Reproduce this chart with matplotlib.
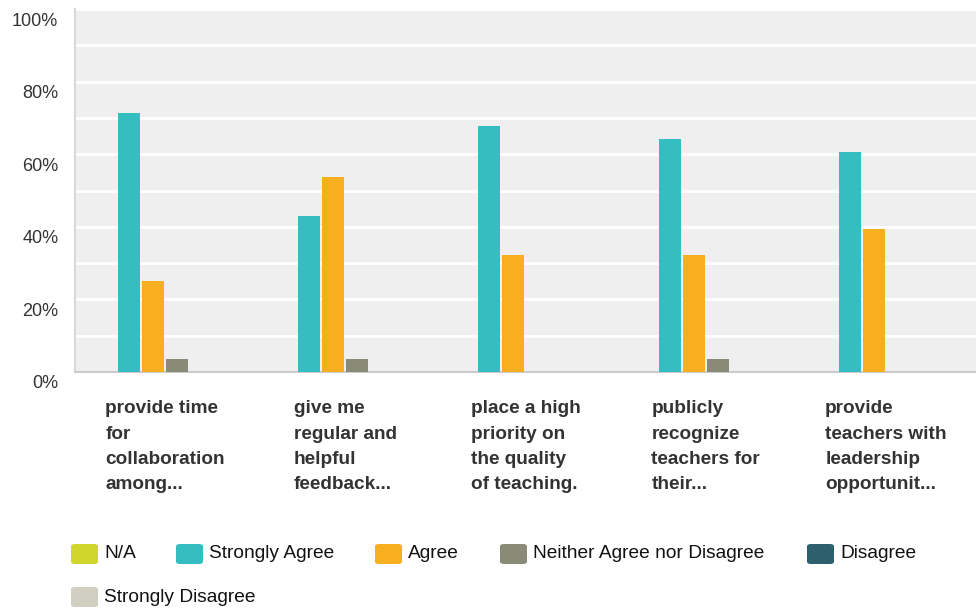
import matplotlib
matplotlib.use("Agg")
import matplotlib.pyplot as plt
import matplotlib.transforms as mtransforms
from matplotlib.patches import FancyBboxPatch
import numpy as np

plt.rcParams['font.family'] = ['Liberation Sans', 'DejaVu Sans']

categories = [
    "provide time\nfor\ncollaboration\namong...",
    "give me\nregular and\nhelpful\nfeedback...",
    "place a high\npriority on\nthe quality\nof teaching.",
    "publicly\nrecognize\nteachers for\ntheir...",
    "provide\nteachers with\nleadership\nopportunit...",
]
series_names = ["N/A", "Strongly Agree", "Agree", "Neither Agree nor Disagree",
                "Disagree", "Strongly Disagree"]
na_vals = [0, 0, 0, 0, 0]
strongly_agree = [71.4, 42.9, 67.9, 64.3, 60.7]
agree = [25.0, 53.6, 32.1, 32.1, 39.3]
neither = [3.6, 3.6, 0, 3.6, 0]
disagree = [0, 0, 0, 0, 0]
strongly_disagree = [0, 0, 0, 0, 0]
series_values = [na_vals, strongly_agree, agree, neither, disagree, strongly_disagree]
colors = ["#d0d62b", "#35bec1", "#f7af1f", "#8a8a78", "#2e5f6d", "#d0cfc2"]
yticks = [0, 20, 40, 60, 80, 100]
ytick_labels = ["0%", "20%", "40%", "60%", "80%", "100%"]

W, H = 976, 610
fig = plt.figure(figsize=(W / 100, H / 100), dpi=100)
ax = fig.add_axes([75 / W, 1 - 372 / H, (W - 75) / W, (372 - 9) / H])
ax.set_facecolor("#efefef")

x = np.arange(len(categories))
slot = 0.1333
bw = 0.122
for i, (vals, c) in enumerate(zip(series_values, colors)):
    ax.bar(x + (i - 2.5) * slot, vals, width=bw, color=c, zorder=3, linewidth=0)

ax.set_xlim(-0.5, len(categories) - 0.5)
ax.set_ylim(0, 100)
ax.set_yticks(np.arange(0, 101, 10), minor=True)
ax.grid(True, which='both', axis='y', color='white', linewidth=2, zorder=1)
ax.set_axisbelow(True)
ax.set_yticks(yticks)
ax.set_yticklabels(ytick_labels, fontsize=13, color="#333333")
ax.tick_params(axis='y', which='both', length=0, pad=12)
offset = mtransforms.ScaledTranslation(0, -10 / 100, fig.dpi_scale_trans)
for lab in ax.get_yticklabels():
    lab.set_transform(lab.get_transform() + offset)

ax.set_xticks(x)
ax.set_xticklabels(categories, fontsize=13.7, fontweight='bold', color="#333333",
                   ha='center', multialignment='left', linespacing=1.62)
ax.tick_params(axis='x', length=0, pad=20.5)

for s in ['top', 'right']:
    ax.spines[s].set_visible(False)
ax.spines['left'].set_color('#d8d8d8')
ax.spines['left'].set_linewidth(1.5)
ax.spines['bottom'].set_color('#cccccc')
ax.spines['bottom'].set_linewidth(1.5)

# Legend (manual placement in pixel coords)
legend_items = [
    (0, 71, 554), (1, 176, 554), (2, 375, 554), (3, 500, 554), (4, 807, 554), (5, 71, 597)
]
for idx, px, py in legend_items:
    patch = FancyBboxPatch((px / W, 1 - (py + 10) / H), 27 / W, 20 / H,
                           boxstyle="round,pad=0,rounding_size=0.004",
                           transform=fig.transFigure, facecolor=colors[idx],
                           edgecolor='none')
    fig.add_artist(patch)
    fig.text((px + 33) / W, 1 - py / H, series_names[idx], fontsize=13.8,
             color="#111111", va='center', ha='left')

fig.savefig("out.png", dpi=100)
